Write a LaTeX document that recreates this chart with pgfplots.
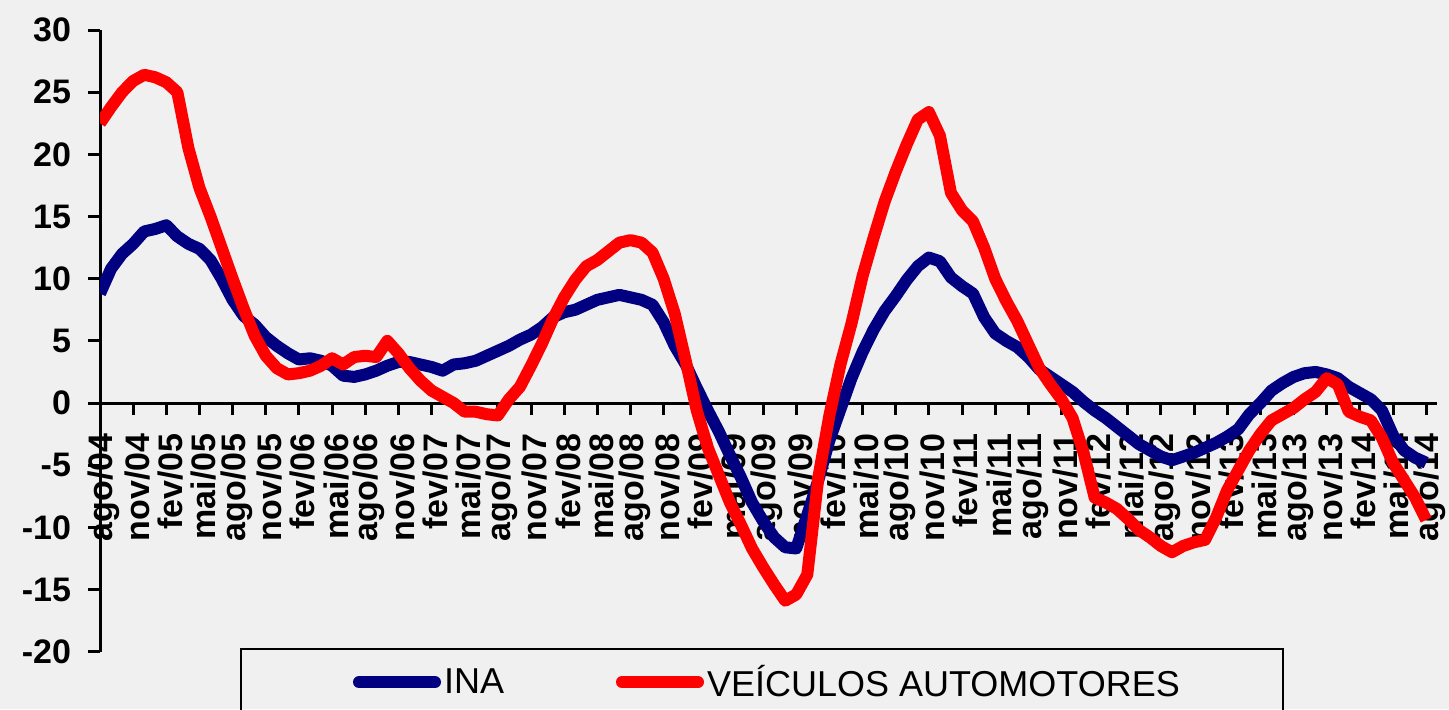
\documentclass[border=0pt]{standalone}
\usepackage{fontspec}
\setmainfont{Liberation Sans}
\usepackage{pgfplots}
\usepackage{pgfplotstable}
\pgfplotsset{compat=1.18}
\definecolor{inablue}{RGB}{0,0,128}
\definecolor{veicred}{RGB}{255,0,0}
\definecolor{bggray}{RGB}{240,240,240}

% m = meses desde ago/04
\pgfplotstableread{
m ina veic
0 8.8 22.5
1 10.8 23.8
2 12.0 25.0
3 12.8 25.9
4 13.8 26.4
5 14.0 26.2
6 14.3 25.8
7 13.4 25.0
8 12.8 20.5
9 12.4 17.3
10 11.5 15.0
11 10.0 12.5
12 8.3 10.0
13 7.0 7.6
14 6.3 5.4
15 5.3 3.8
16 4.6 2.8
17 4.0 2.3
18 3.5 2.4
19 3.6 2.6
20 3.4 3.0
21 3.0 3.6
22 2.2 3.1
23 2.1 3.7
24 2.3 3.8
25 2.6 3.7
26 3.0 5.0
27 3.3 4.0
28 3.3 2.8
29 3.1 1.8
30 2.9 1.0
31 2.6 0.5
32 3.1 0.0
33 3.2 -0.7
34 3.4 -0.7
35 3.8 -0.9
36 4.2 -1.0
37 4.6 0.3
38 5.1 1.3
39 5.5 3.0
40 6.1 4.8
41 6.9 6.8
42 7.3 8.5
43 7.5 9.9
44 7.9 11.0
45 8.3 11.5
46 8.5 12.2
47 8.7 12.9
48 8.5 13.1
49 8.3 12.9
50 7.9 12.1
51 6.5 10.0
52 4.6 7.2
53 3.1 3.4
54 1.2 -0.6
55 -0.6 -3.6
56 -2.3 -5.8
57 -4.2 -8.0
58 -6.0 -9.8
59 -8.0 -11.7
60 -9.5 -13.2
61 -10.8 -14.6
62 -11.6 -15.9
63 -11.7 -15.4
64 -9.0 -13.8
65 -6.2 -6.0
66 -3.0 -1.0
67 -0.5 3.1
68 2.0 6.4
69 4.1 10.2
70 5.9 13.3
71 7.4 16.2
72 8.6 18.6
73 9.9 20.8
74 11.0 22.8
75 11.7 23.4
76 11.4 21.5
77 10.1 16.9
78 9.4 15.5
79 8.8 14.6
80 6.9 12.5
81 5.6 10.0
82 5.0 8.2
83 4.5 6.6
84 3.7 4.7
85 2.7 2.8
86 2.1 1.5
87 1.5 0.3
88 0.9 -1.2
89 0.1 -4.0
90 -0.6 -7.6
91 -1.2 -8.0
92 -1.9 -8.5
93 -2.6 -9.3
94 -3.3 -10.2
95 -3.8 -10.8
96 -4.3 -11.5
97 -4.6 -12.0
98 -4.3 -11.5
99 -4.0 -11.2
100 -3.6 -11.0
101 -3.2 -9.2
102 -2.7 -7.0
103 -2.1 -5.4
104 -0.9 -3.8
105 0.0 -2.5
106 1.0 -1.4
107 1.6 -0.9
108 2.1 -0.4
109 2.4 0.3
110 2.5 0.9
111 2.3 2.0
112 2.0 1.5
113 1.3 -0.7
114 0.8 -1.1
115 0.3 -1.4
116 -0.6 -2.8
117 -2.6 -4.8
118 -3.8 -6.2
119 -4.4 -7.6
120 -4.8 -9.4
}\dados

\pgfplotsset{
  inaimg/.style={legend image code/.code={%
    \path (-6pt,0pt); \draw[##1,line cap=round] (0pt,0pt) -- (38pt,0pt);}},
}

\begin{document}
\begin{tikzpicture}
\begin{axis}[
  set layers=standard,
  at={(0,0)}, anchor=south west,
  scale only axis, width=668.6pt, height=310.85pt,
  xmin=0, xmax=121, ymin=-20, ymax=30,
  axis x line=middle, axis y line=left,
  axis line style={-, line width=1.5pt, black},
  hide obscured x ticks=false, hide obscured y ticks=false,
  tick align=outside, major tick length=6pt,
  tick style={line width=1.5pt, black},
  xtick={0,3,...,120},
  xticklabels={ago/04,nov/04,fev/05,mai/05,ago/05,nov/05,fev/06,mai/06,ago/06,nov/06,
    fev/07,mai/07,ago/07,nov/07,fev/08,mai/08,ago/08,nov/08,fev/09,mai/09,ago/09,nov/09,
    fev/10,mai/10,ago/10,nov/10,fev/11,mai/11,ago/11,nov/11,fev/12,mai/12,ago/12,nov/12,
    fev/13,mai/13,ago/13,nov/13,fev/14,mai/14,ago/14},
  ytick={-20,-15,...,30},
  yticklabels={-20,-15,-10,-5,0,5,10,15,20,25,30},
  xticklabel shift=8pt,
  xticklabel style={xshift=2pt, rotate=90, anchor=east, inner sep=1pt,
    font=\bfseries\fontsize{17}{17}\selectfont},
  yticklabel style={anchor=east, xshift=-5pt, font=\bfseries\fontsize{17}{17}\selectfont},
  legend columns=2,
  legend style={at={(axis description cs:0,0)}, anchor=north west,
    xshift=70pt, yshift=1.85pt, draw=black, line width=1pt, fill=none,
    inner xsep=50pt, inner ysep=6pt,
    font=\fontsize{18}{20}\selectfont,
    nodes={inner xsep=1.5pt, inner ysep=2pt},
    /tikz/every even column/.append style={column sep=54.5pt}},
  legend image code/.code={\draw[#1,line cap=round] (0pt,0pt) -- (38pt,0pt);},
]
\begin{pgfonlayer}{axis background}
  \fill[bggray] ([shift={(-50pt,-28.65pt)}]rel axis cs:0,0)
    rectangle ([shift={(674.5pt,325.85pt)}]rel axis cs:0,0);
\end{pgfonlayer}
\addplot[inablue, line width=6pt, line join=round, inaimg] table[x=m, y=ina] {\dados};
\addlegendentry{INA}
\addplot[veicred, line width=6pt, line join=round] table[x=m, y=veic] {\dados};
\addlegendentry{VEÍCULOS AUTOMOTORES}
\end{axis}
\pgfresetboundingbox
\path[use as bounding box] (current axis.south west) ++(-50pt,-28.65pt) rectangle ++(724.5pt,354.5pt);
\end{tikzpicture}
\end{document}
